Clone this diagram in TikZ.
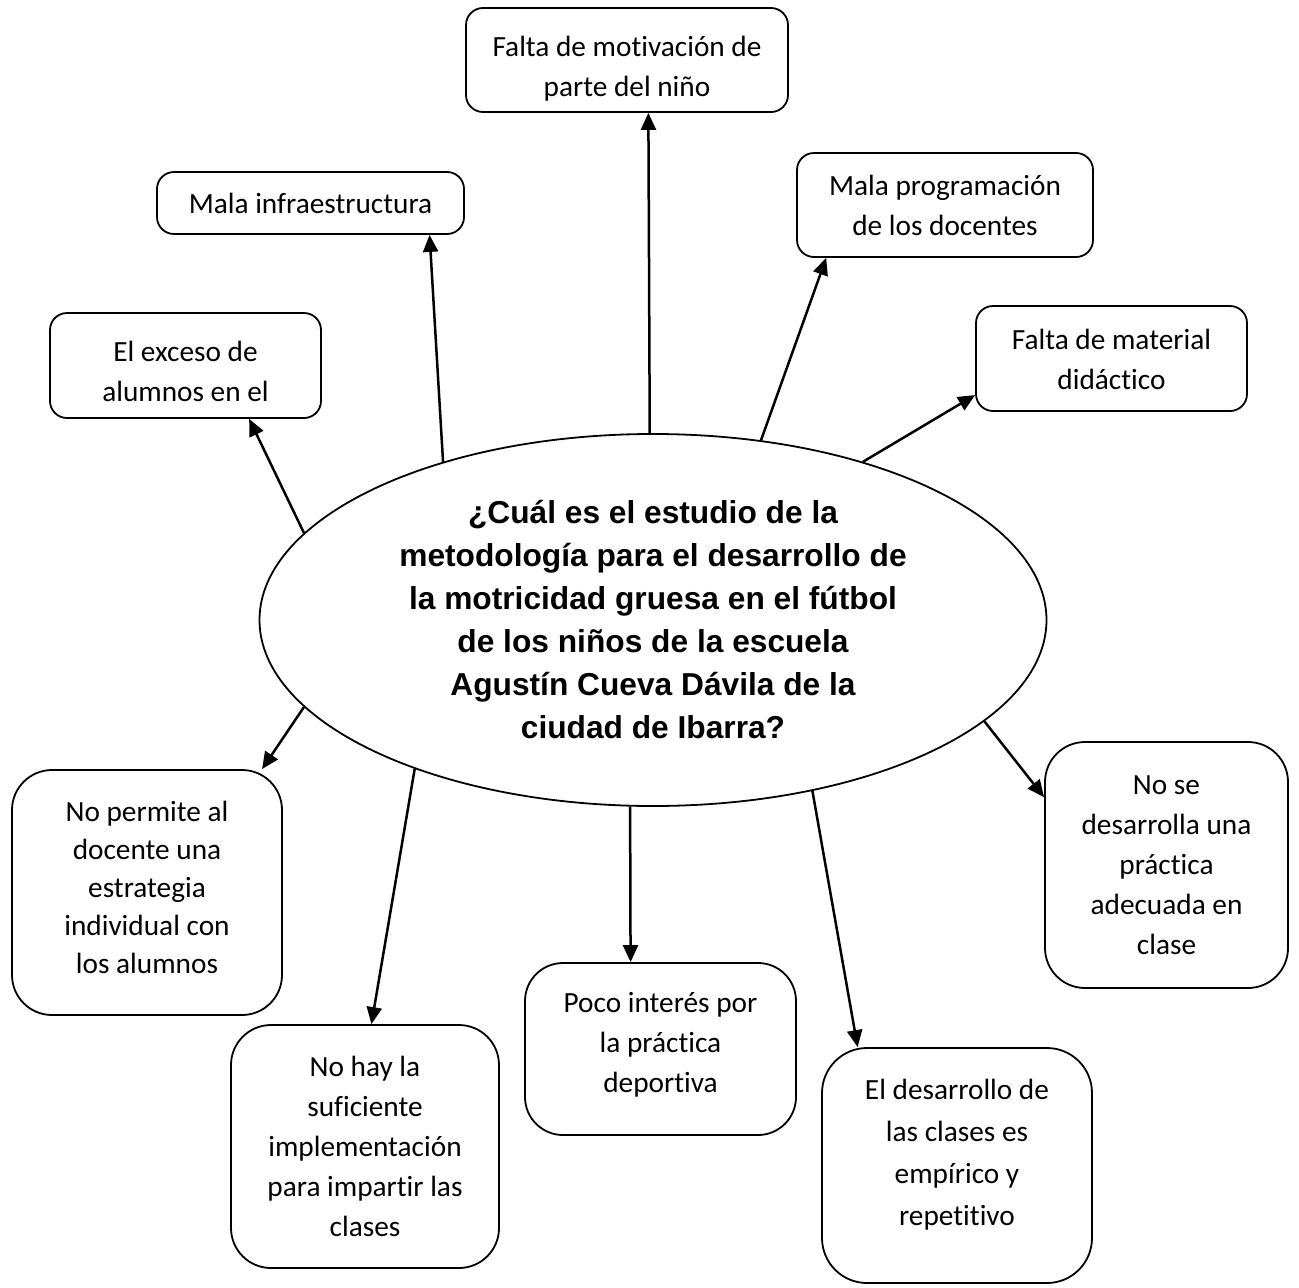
\documentclass[tikz,border=0pt]{standalone}
\usepackage{fontspec}
\setmainfont{Carlito}[Ligatures={NoCommon}]
\newfontfamily\qfont{Liberation Sans}
\usetikzlibrary{arrows.meta,shapes.geometric}
\newcommand\mystack[3][1]{\raisebox{#2}[\height][\depth]{\renewcommand\arraystretch{#1}\begin{tabular}{@{}c@{}}#3\end{tabular}}}
\begin{document}
\begin{tikzpicture}[x=1pt,y=-1pt,
  box/.style={draw, line width=1.8pt, rounded corners=#1, align=center,
    inner sep=0pt, font=\fontsize{29.3}{40}\selectfont},
  box/.default=17pt,
  arr/.style={line width=2.5pt, -{Triangle[length=17pt,width=15pt]}}]
\useasboundingbox (0,0) rectangle (1299,1288);

\node[ellipse, draw, line width=1.8pt, minimum width=787pt, minimum height=372pt,
  inner sep=0pt, align=center, font=\qfont\bfseries\fontsize{31.7}{43}\selectfont]
  (E) at (653,620) {¿Cuál es el estudio de la\\metodología para el desarrollo de\\la motricidad gruesa en el fútbol\\de los niños de la escuela\\Agustín Cueva Dávila de la\\ciudad de Ibarra?};

\node[box, minimum width=322pt, minimum height=104pt] (b1) at (627,60)
  {\mystack{-8pt}{Falta de motivación de\\parte del niño}};
\node[box, minimum width=307pt, minimum height=62pt] (b2) at (310.5,203)
  {Mala infraestructura};
\node[box, minimum width=296pt, minimum height=104pt] (b3) at (945,205)
  {Mala programación\\de los docentes};
\node[box, minimum width=271pt, minimum height=105pt] (b4) at (185.5,365.5)
  {\mystack{-8pt}{El exceso de\\alumnos en el}};
\node[box, minimum width=271pt, minimum height=105pt] (b5) at (1111.5,358.5)
  {\mystack{-3pt}{Falta de material\\didáctico}};
\node[box=40pt, minimum width=270pt, minimum height=245pt] (b6) at (147,892.5)
  {\mystack[0.95]{3pt}{No permite al\\docente una\\estrategia\\individual con\\los alumnos}};
\node[box=40pt, minimum width=243pt, minimum height=246pt] (b7) at (1166.5,865)
  {No se\\desarrolla una\\práctica\\adecuada en\\clase};
\node[box=40pt, minimum width=268pt, minimum height=243pt] (b8) at (365,1146.5)
  {No hay la\\suficiente\\implementación\\para impartir las\\clases};
\node[box=38pt, minimum width=271pt, minimum height=172pt] (b9) at (660.5,1049)
  {\mystack{5pt}{Poco interés por\\la práctica\\deportiva}};
\node[box=45pt, minimum width=270pt, minimum height=235pt] (b10) at (957,1165.5)
  {\mystack[1.05]{11pt}{El desarrollo de\\las clases es\\empírico y\\repetitivo}};

\draw[arr] (E.91.5) -- (b1.-68);
\draw[arr] (E.143) -- (b2.-15.5);
\draw[arr] (E.59.7) -- (b3.-156.5);
\draw[arr] (E.166) -- (b4.-40.2);
\draw[arr] (E.37.45) -- (b5.-165);
\draw[arr] (E.-166.35) -- (b6.47.8);
\draw[arr] (E.-17.96) -- (b7.151.75);
\draw[arr] (E.-148.3) -- (b8.87.6);
\draw[arr] (E.-97.1) -- (b9.109.5);
\draw[arr] (E.-47.3) -- (b10.130.4);
\end{tikzpicture}
\end{document}
